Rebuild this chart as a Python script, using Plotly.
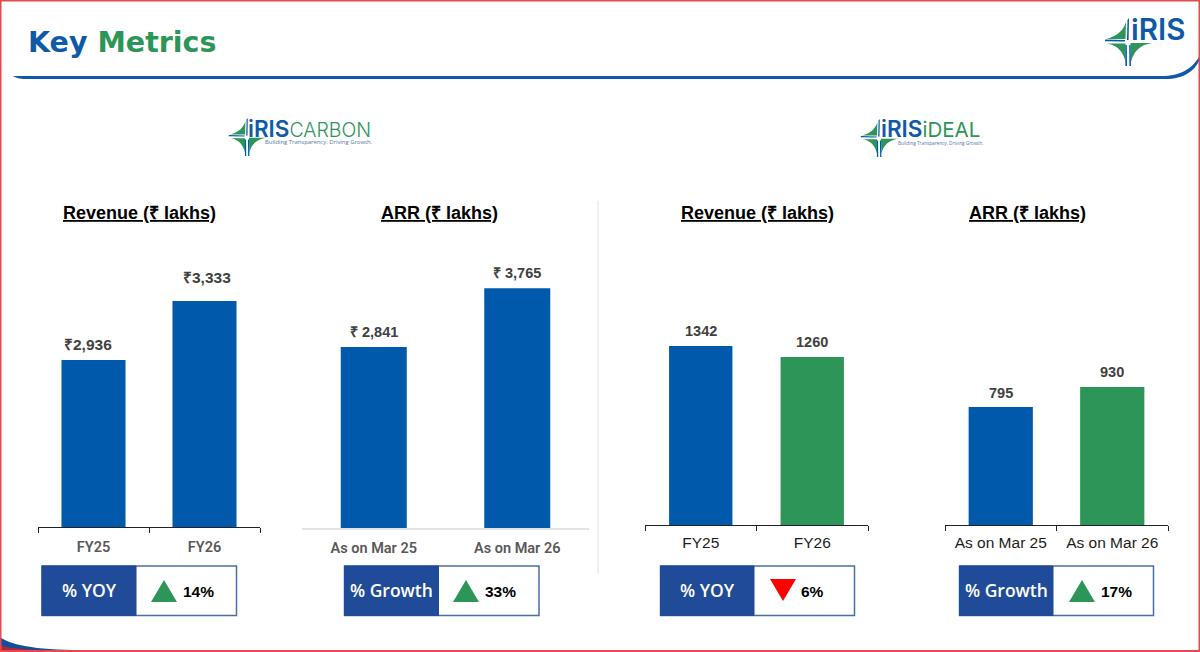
import plotly.graph_objects as go

W, H = 1200, 652
BLUE = "#0059AB"
GREEN = "#2E9558"
NAVY = "#1F4B98"

titles = ["Revenue (₹ lakhs)", "ARR (₹ lakhs)", "Revenue (₹ lakhs)", "ARR (₹ lakhs)"]
cats_rev = ["FY25", "FY26"]
cats_arr = ["As on Mar 25", "As on Mar 26"]

carbon_rev = [2936, 3333]
carbon_rev_text = ["₹2,936", "₹3,333"]
carbon_arr = [2841, 3765]
carbon_arr_text = ["₹ 2,841", "₹ 3,765"]
ideal_rev = [1342, 1260]
ideal_rev_text = ["1342", "1260"]
ideal_arr = [795, 930]
ideal_arr_text = ["795", "930"]

kpi_names = ["% YOY", "% Growth", "% YOY", "% Growth"]
kpi_values = ["14%", "33%", "6%", "17%"]
kpi_up = [True, True, False, True]


def px(x):
    return x / W


def py(y):
    return 1 - y / H


fig = go.Figure()
shapes = []
ann = []


def text(x, y, s, size, color="#000", family="Liberation Sans", anchor="center", weight=None):
    f = dict(size=size, color=color, family=family)
    if weight:
        f["weight"] = weight
    ann.append(dict(x=px(x), y=py(y), xref="paper", yref="paper", text=s, showarrow=False,
                    xanchor=anchor, yanchor="middle", font=f, borderpad=0, borderwidth=0))


def poly(pts, fill, line=None, lw=0):
    p = "M " + " L ".join(f"{px(a):.5f},{py(b):.5f}" for a, b in pts) + " Z"
    shapes.append(dict(type="path", xref="paper", yref="paper", path=p, fillcolor=fill,
                       line=dict(color=line or fill, width=lw), layer="above"))


def curve(p0, ctrl, p1, steps=14):
    out = []
    for i in range(steps + 1):
        t = i / steps
        out.append(((1 - t) ** 2 * p0[0] + 2 * (1 - t) * t * ctrl[0] + t ** 2 * p1[0],
                    (1 - t) ** 2 * p0[1] + 2 * (1 - t) * t * ctrl[1] + t ** 2 * p1[1]))
    return out


def rect(x0, y0, x1, y1, fill, line=None, lw=0):
    shapes.append(dict(type="rect", xref="paper", yref="paper", x0=px(x0), x1=px(x1), y0=py(y0), y1=py(y1),
                       fillcolor=fill, line=dict(color=line or fill, width=lw), layer="above"))


# panels: values, labels, categories, bar colors, axis extent, baseline, px-per-unit, axis floor, gap, style,
# label x nudges, label y offsets
panels = [
    (carbon_rev, carbon_rev_text, cats_rev, [BLUE, BLUE], 38, 260, 527, 0.1486, 1812, 0.423, "a", (-6, 2), (15, 23)),
    (carbon_arr, carbon_arr_text, cats_arr, [BLUE, BLUE], 302, 589, 528, 0.0637, 0, 0.54, "b", (0, 0), (15, 15)),
    (ideal_rev, ideal_rev_text, cats_rev, [BLUE, GREEN], 645, 868, 525, 0.1333, 0, 0.432, "c", (0, 0), (15, 15)),
    (ideal_arr, ideal_arr_text, cats_arr, [BLUE, GREEN], 945, 1168, 525, 0.1484, 0, 0.424, "c", (0, 0), (14, 15)),
]
TOP = 240
layout_axes = {}
for i, (vals, labels, cats, colors, x0, x1, base, scale, floor, gap, style, dxs, dys) in enumerate(panels):
    n = "" if i == 0 else str(i + 1)
    fig.add_trace(go.Bar(x=cats, y=vals, cliponaxis=False,
                         marker=dict(color=colors, line=dict(width=0)), width=1 - gap,
                         xaxis="x" + n, yaxis="y" + n, showlegend=False))
    for c, v, t, dx, dy in zip(cats, vals, labels, dxs, dys):
        ann.append(dict(x=c, y=v, xref="x" + n, yref="y" + n, text=t, showarrow=False, yanchor="middle",
                        xshift=dx, yshift=dy, font=dict(family="Liberation Sans", size=15.5 if i == 0 else 14.5,
                                                        color="#404040", weight=700)))
    xa = dict(domain=[px(x0), px(x1)], anchor="y" + n, type="category", showgrid=False, zeroline=False,
              fixedrange=True, showline=True)
    if style == "b":
        xa.update(linecolor="#E3E3E3", linewidth=2, ticks="", ticklabelstandoff=6,
                  tickfont=dict(family="Roboto", size=14.5, color="#595959", weight=600))
    else:
        xa.update(linecolor="#222222", linewidth=1, ticks="outside", ticklen=5, tickcolor="#222222",
                  tickwidth=1, tickson="boundaries")
        if style == "a":
            xa.update(tickfont=dict(family="Roboto", size=14.5, color="#595959", weight=600), ticklabelstandoff=7)
        else:
            xa.update(tickfont=dict(family="Liberation Sans", size=15.5, color="#1c1c1c"), ticklabelstandoff=3)
    ya = dict(domain=[py(base), py(TOP)], anchor="x" + n, visible=False,
              range=[floor, floor + (base - TOP) / scale], fixedrange=True)
    layout_axes["xaxis" + n] = xa
    layout_axes["yaxis" + n] = ya

# panel headings
for t, cx in zip(titles, [139.5, 439.5, 757, 1027]):
    text(cx, 213.5, f"<u>{t}</u>", 18, "#000", weight=700)

# KPI boxes: left, divider, right, triangle left, value centre
boxes = [(42, 136, 236.5, 151, 198), (344.5, 438.5, 539, 453, 500),
         (660.5, 754, 854.5, 770, 812), (959.5, 1053, 1153.5, 1069, 1116)]
for (l, d, r, tx, vx), name, val, up in zip(boxes, kpi_names, kpi_values, kpi_up):
    rect(l, 566, r, 615.5, "#FFFFFF", "#4A6EA6", 1.5)
    rect(l, 566, d, 615.5, NAVY, NAVY, 1)
    text((l + d) / 2, 589.5, name, 17.5, "#FFFFFF", family="Open Sans", weight=600)
    if up:
        poly([(tx, 602), (tx + 13, 580), (tx + 26, 602)], GREEN)
    else:
        poly([(tx, 579), (tx + 26, 579), (tx + 13, 601)], "#FF0000")
    text(vx, 591, f"<b>{val}</b>", 15.5, "#000")


def star(cx, cy, r):
    # four-blade logo mark
    s = r / 24
    P = lambda a, b: (cx + a * s, cy + b * s)
    poly([P(-22, -3)] + curve(P(-22, -3), P(-6, -7), P(-2, -20)) + [P(-2.5, -3)], GREEN)
    poly([P(1, -24), P(0.6, -2), P(-1, -2), P(-0.5, -22)], BLUE)
    poly([P(-23, -2.4), P(-3, -2), P(-3, -0.6), P(-23, -0.8)], BLUE)
    poly([P(-21, 1.5)] + curve(P(-21, 1.5), P(-6, 4), P(-2.5, 20)) + [P(-2.5, 1.5)], GREEN)
    poly([P(25, 1)] + curve(P(25, 1), P(7, 3), P(3, 20)) + [P(2.5, 1)], GREEN)
    poly([P(-2.6, 24), P(-2.6, 3), P(-1.2, 3), P(-1, 24)], BLUE)
    poly([P(1.4, 24), P(1.2, 3), P(2.6, 3), P(3, 24)], BLUE)


# header
text(28, 43, '<b><span style="color:#0F5AA8">Key</span> <span style="color:#2E9558">Metrics</span></b>',
     28.5, family="DejaVu Sans", anchor="left")
band = [(13, 76), (1165, 76)] + curve((1165, 76), (1188, 75), (1199, 57)) + \
       curve((1199, 61), (1190, 79), (1165, 79)) + [(25, 79)] + curve((25, 79), (18, 79), (13, 76))
poly(band, "#0F5AA8")
star(1128, 42, 24)
text(1130.5, 28.5, "iRIS", 29.5, "#0F5AA8", family="Inter", anchor="left", weight=600)

# product logos
star(247, 137, 19)
text(248, 128.5, 'iRIS<span style="color:#2E9558;font-weight:300;font-size:19.5px">CARBON</span>', 22.5,
     "#0F5AA8", family="Inter", anchor="left", weight=600)
text(265, 142, "Building Transparency. Driving Growth.", 5.9, "#5578A8", family="Open Sans", anchor="left")
star(879, 138, 19)
text(881, 128.5, 'iRIS<span style="color:#2E9558;font-weight:400;font-size:20.5px">iDEAL</span>', 22.5,
     "#0F5AA8", family="Inter", anchor="left", weight=600)
text(898, 143, "Building Transparency. Driving Growth.", 4.7, "#5578A8", family="Open Sans", anchor="left")

# centre divider
shapes.append(dict(type="line", xref="paper", yref="paper", x0=px(598), x1=px(598), y0=py(201), y1=py(574),
                   line=dict(color="#E2E2E2", width=1)))

# corner swoosh and outer border
poly([(0, 637)] + curve((0, 637), (16, 649), (72, 650)) + [(0, 651)], "#0F4F9C")
poly([(0, 645)] + curve((0, 645), (8, 649), (45, 650)) + [(0, 652)], "#B3263A")
for r_ in [(0, 0, 1200, 1.5), (0, 0, 1.5, 652), (1198.5, 0, 1200, 652), (0, 650, 1200, 652)]:
    rect(*r_, "#E5484D")

fig.update_layout(width=W, height=H, margin=dict(l=0, r=0, t=0, b=0), autosize=False,
                  paper_bgcolor="#FFFFFF", plot_bgcolor="#FFFFFF", shapes=shapes, annotations=ann,
                  **layout_axes)
fig.write_html("out.html", config=dict(displayModeBar=False),
               post_script="document.body.style.margin='0';document.documentElement.style.overflow='hidden';")
